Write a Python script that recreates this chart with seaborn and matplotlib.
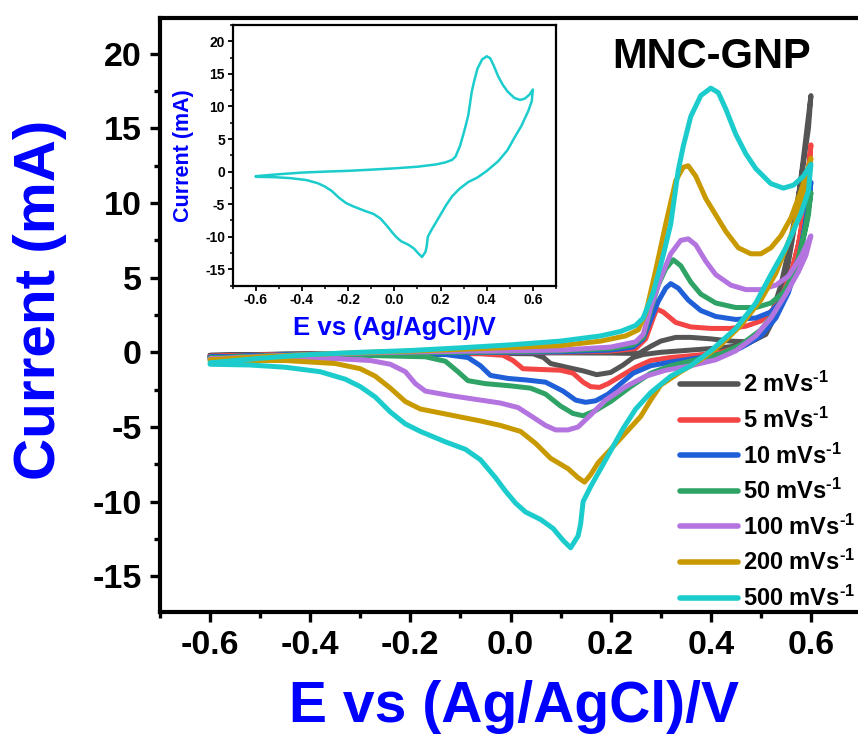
import numpy as np
import pandas as pd
import seaborn as sns
import matplotlib.pyplot as plt
from matplotlib.ticker import MultipleLocator

# scan rates and colours
rates = ["2", "5", "10", "50", "100", "200", "500"]
colors = ["#555555", "#f44545", "#1f5fd8", "#2fa366", "#b474e0", "#c99a00", "#1ccccc"]

# potential (V) / current (mA), forward then reverse scan
E_2 = [-0.6, -0.45, -0.3, -0.15, 0.0, 0.1, 0.2, 0.255, 0.26, 0.28, 0.30, 0.33, 0.36, 0.40, 0.44, 0.48, 0.51, 0.53,
       0.55, 0.57, 0.585, 0.60,
       0.595, 0.58, 0.56, 0.54, 0.52, 0.50, 0.47, 0.42, 0.36, 0.30, 0.265, 0.245, 0.225, 0.2, 0.172, 0.146, 0.112,
       0.08, 0.066, 0.045, -0.1, -0.3, -0.45, -0.6]
I_2 = [-0.2, -0.12, -0.08, -0.05, -0.04, -0.04, -0.05, -0.08, 0.0, 0.4, 0.75, 1.0, 1.0, 0.9, 0.75, 0.7, 1.2, 2.5,
       5.0, 9.0, 13.0, 17.2,
       15.0, 11.5, 7.5, 4.5, 2.4, 1.1, 0.5, 0.3, 0.15, 0.0, -0.15, -0.35, -0.85, -1.35, -1.5, -1.25, -1.0,
       -0.75, -0.35, -0.1, -0.05, -0.1, -0.13, -0.2]

E_5 = [-0.6, -0.45, -0.3, -0.15, 0.0, 0.1, 0.2, 0.25, 0.27, 0.285, 0.292, 0.305, 0.33, 0.36, 0.40, 0.44, 0.47, 0.50,
       0.525, 0.545, 0.565, 0.58, 0.592, 0.60,
       0.59, 0.575, 0.555, 0.53, 0.50, 0.46, 0.42, 0.37, 0.32, 0.28, 0.25, 0.22, 0.195, 0.178, 0.16, 0.145, 0.125,
       0.1, 0.06, 0.025, 0.005, -0.015, -0.06, -0.2, -0.4, -0.6]
I_5 = [-0.27, -0.15, -0.08, -0.04, -0.02, 0.0, 0.08, 0.25, 0.9, 2.3, 2.9, 2.7, 2.0, 1.7, 1.6, 1.6, 1.75, 2.1,
       2.9, 4.0, 5.8, 8.0, 11.0, 13.9,
       10.3, 7.2, 4.6, 2.6, 1.2, 0.4, 0.0, -0.2, -0.35, -0.55, -1.0, -1.6, -2.1, -2.35, -2.3, -2.0, -1.4,
       -1.2, -1.15, -1.1, -0.55, -0.2, -0.1, -0.08, -0.15, -0.27]

E_10 = [-0.6, -0.45, -0.3, -0.15, 0.0, 0.1, 0.2, 0.245, 0.265, 0.28, 0.295, 0.31, 0.32, 0.335, 0.355, 0.38, 0.41,
        0.45, 0.49, 0.52, 0.545, 0.565, 0.58, 0.595, 0.60,
        0.59, 0.575, 0.555, 0.53, 0.50, 0.46, 0.42, 0.37, 0.32, 0.28, 0.245, 0.22, 0.195, 0.17, 0.15, 0.13, 0.105,
        0.07, 0.03, -0.005, -0.04, -0.06, -0.085, -0.13, -0.3, -0.45, -0.6]
I_10 = [-0.32, -0.18, -0.1, -0.04, 0.0, 0.03, 0.15, 0.35, 0.9, 2.2, 3.4, 4.3, 4.6, 4.3, 3.5, 2.8, 2.4,
        2.2, 2.3, 2.7, 3.6, 5.0, 6.8, 9.8, 11.4,
        8.8, 6.2, 4.0, 2.3, 1.1, 0.3, -0.15, -0.4, -0.65, -0.9, -1.4, -2.1, -2.8, -3.25, -3.35, -3.2, -2.6,
        -2.0, -1.85, -1.75, -1.55, -0.9, -0.35, -0.15, -0.12, -0.18, -0.32]

E_50 = [-0.6, -0.45, -0.3, -0.15, 0.0, 0.1, 0.2, 0.245, 0.265, 0.28, 0.295, 0.31, 0.325, 0.34, 0.36, 0.38, 0.41,
        0.45, 0.49, 0.52, 0.545, 0.565, 0.58, 0.595, 0.60,
        0.59, 0.575, 0.555, 0.53, 0.50, 0.46, 0.42, 0.37, 0.32, 0.28, 0.24, 0.2, 0.17, 0.145, 0.125, 0.10,
        0.07, 0.04, 0.0, -0.05, -0.085, -0.105, -0.13, -0.17, -0.3, -0.45, -0.6]
I_50 = [-0.38, -0.2, -0.1, -0.02, 0.04, 0.1, 0.25, 0.5, 1.0, 2.8, 4.5, 5.6, 6.2, 5.8, 4.7, 3.9, 3.3,
        3.0, 3.0, 3.3, 4.0, 5.2, 6.8, 9.2, 10.7,
        8.5, 6.3, 4.5, 2.8, 1.5, 0.5, -0.1, -0.5, -0.9, -1.4, -2.3, -3.3, -3.9, -4.25, -4.1, -3.6,
        -2.8, -2.4, -2.25, -2.1, -1.9, -1.3, -0.6, -0.3, -0.2, -0.22, -0.38]

E_100 = [-0.6, -0.5, -0.4, -0.3, -0.2, -0.1, 0.0, 0.1, 0.2, 0.25, 0.265, 0.28, 0.30, 0.32, 0.34, 0.355, 0.37,
         0.39, 0.41, 0.44, 0.47, 0.50, 0.53, 0.555, 0.58, 0.60,
         0.59, 0.575, 0.55, 0.52, 0.49, 0.45, 0.41, 0.36, 0.31, 0.27, 0.23, 0.19, 0.16, 0.135, 0.115, 0.09,
         0.07, 0.045, 0.015, -0.02, -0.06, -0.12, -0.17, -0.19, -0.21, -0.24, -0.28, -0.35, -0.45, -0.6]
I_100 = [-0.45, -0.28, -0.15, -0.05, 0.02, 0.07, 0.1, 0.15, 0.35, 0.7, 1.2, 3.0, 5.0, 6.6, 7.5, 7.6, 7.2,
         6.1, 5.2, 4.5, 4.2, 4.2, 4.5, 5.1, 6.4, 7.8,
         6.5, 5.4, 3.9, 2.3, 1.1, 0.1, -0.5, -0.9, -1.2, -1.6, -2.3, -3.2, -4.2, -5.0, -5.2, -5.2,
         -4.9, -4.35, -3.7, -3.4, -3.2, -2.9, -2.6, -2.1, -1.3, -0.8, -0.55, -0.42, -0.35, -0.45]

E_200 = [-0.6, -0.5, -0.4, -0.3, -0.2, -0.1, 0.0, 0.1, 0.18, 0.23, 0.255, 0.27, 0.29, 0.31, 0.33, 0.345, 0.355,
         0.37, 0.39, 0.41, 0.43, 0.455, 0.48, 0.50, 0.52, 0.54, 0.56, 0.58, 0.60,
         0.595, 0.58, 0.56, 0.53, 0.50, 0.46, 0.42, 0.38, 0.34, 0.30, 0.28, 0.26, 0.23, 0.20, 0.175, 0.16, 0.148,
         0.135, 0.115, 0.08, 0.05, 0.02, -0.02, -0.06, -0.12, -0.18, -0.21, -0.24, -0.27, -0.3, -0.35, -0.45, -0.6]
I_200 = [-0.5, -0.3, -0.15, -0.02, 0.08, 0.2, 0.32, 0.45, 0.75, 1.1, 1.5, 2.6, 5.5, 8.6, 11.5, 12.4, 12.5,
         11.8, 10.3, 9.2, 8.1, 7.0, 6.6, 6.6, 7.0, 7.8, 9.0, 10.8, 13.0,
         11.5, 10.0, 7.8, 5.3, 3.5, 1.8, 0.5, -0.5, -1.3, -2.2, -3.2, -4.3, -5.4, -6.5, -7.4, -8.2, -8.7,
         -8.4, -7.8, -7.1, -6.1, -5.3, -4.9, -4.6, -4.2, -3.8, -3.3, -2.4, -1.6, -1.1, -0.75, -0.55, -0.55]

E_500 = [-0.6, -0.5, -0.4, -0.3, -0.2, -0.1, 0.0, 0.1, 0.18, 0.22, 0.25, 0.265, 0.285, 0.305, 0.32, 0.335, 0.345,
         0.36, 0.38, 0.40, 0.415, 0.43, 0.45, 0.47, 0.49, 0.52, 0.545, 0.565, 0.585, 0.60,
         0.595, 0.58, 0.55, 0.52, 0.49, 0.45, 0.40, 0.36, 0.32, 0.28, 0.25, 0.225, 0.20, 0.18, 0.16, 0.145,
         0.14, 0.135, 0.12, 0.105, 0.085, 0.06, 0.03, 0.01, -0.01, -0.03, -0.06, -0.09, -0.13, -0.18, -0.21,
         -0.24, -0.27, -0.3, -0.33, -0.38, -0.45, -0.52, -0.6]
I_500 = [-0.7, -0.4, -0.15, 0.0, 0.12, 0.3, 0.5, 0.75, 1.1, 1.4, 1.8, 2.3, 4.0, 6.5, 8.6, 12.2, 13.8,
         15.8, 17.2, 17.7, 17.4, 16.3, 14.6, 13.3, 12.3, 11.3, 11.0, 11.2, 11.8, 12.6,
         10.8, 9.3, 7.0, 5.2, 3.3, 1.6, 0.1, -0.9, -1.6, -2.7, -3.8, -5.1, -6.6, -7.8, -9.0, -10.0,
         -11.5, -12.3, -13.1, -12.6, -11.8, -11.2, -10.7, -10.1, -9.3, -8.4, -7.2, -6.5, -6.0, -5.3, -4.8,
         -4.0, -3.0, -2.3, -1.8, -1.3, -1.0, -0.85, -0.8]

E_all = [E_2, E_5, E_10, E_50, E_100, E_200, E_500]
I_all = [I_2, I_5, I_10, I_50, I_100, I_200, I_500]

sns.set_style("ticks")
plt.rcParams["font.family"] = ["Liberation Sans", "DejaVu Sans"]
plt.rcParams["font.weight"] = "bold"
plt.rcParams["axes.unicode_minus"] = False
plt.rcParams["mathtext.fontset"] = "custom"
plt.rcParams["mathtext.rm"] = "Liberation Sans:bold"
plt.rcParams["mathtext.bf"] = "Liberation Sans:bold"
plt.rcParams["mathtext.default"] = "rm"
for k in ["text.color", "axes.edgecolor", "xtick.color", "ytick.color", "axes.labelcolor"]:
    plt.rcParams[k] = "black"

fig = plt.figure(figsize=(8.58, 7.37), dpi=100)
ax = fig.add_axes([0.1865, 0.1696, 0.817, 0.806])

for r, c, E, I in zip(rates, colors, E_all, I_all):
    df = pd.DataFrame({"E": E, "I": I})
    sns.lineplot(data=df, x="E", y="I", sort=False, estimator=None, color=c, lw=3.6,
                 solid_joinstyle="round", solid_capstyle="round",
                 label=r"%s mVs$^{\text{-1}}$" % r, ax=ax)

ax.set_xlim(-0.7, 0.7)
ax.set_ylim(-17.4, 22.4)
ax.xaxis.set_minor_locator(MultipleLocator(0.1))
ax.yaxis.set_major_locator(MultipleLocator(5))
ax.yaxis.set_minor_locator(MultipleLocator(2.5))
ax.set_xticks(np.arange(-0.6, 0.61, 0.2))
ax.set_xticklabels(["-0.6", "-0.4", "-0.2", "0.0", "0.2", "0.4", "0.6"])
for s in ax.spines.values():
    s.set_linewidth(3)
ax.tick_params(which="major", direction="out", length=7, width=2.4, labelsize=24.5, pad=6)
ax.tick_params(which="minor", direction="out", length=4, width=2.4)
ax.set_xlabel("E vs (Ag/AgCl)/V", fontsize=41, color="#0000ff", fontweight="bold")
ax.set_ylabel("Current (mA)", fontsize=42, color="#0000ff", fontweight="bold")
ax.xaxis.set_label_coords(0.505, -0.115)
ax.yaxis.set_label_coords(-0.133, 0.525)

leg = ax.legend(loc="upper left", bbox_to_anchor=(0.7925, 0.495), bbox_transform=fig.transFigure,
                frameon=False, fontsize=17, handlelength=2.45, handletextpad=0.2,
                labelspacing=0.44, borderpad=0, borderaxespad=0)
for line in leg.get_lines():
    line.set_linewidth(4)

fig.text(0.829, 0.908, "MNC-GNP", fontsize=30, fontweight="bold", ha="center", va="baseline", color="black")

# inset with the 500 mV/s scan
ins = fig.add_axes([0.2712, 0.6124, 0.3768, 0.3537])
sns.lineplot(x=E_500, y=I_500, sort=False, estimator=None, color="#1ccccc", lw=1.8, ax=ins)
ins.set_xlim(-0.7, 0.7)
ins.set_ylim(-17.5, 22.5)
ins.set_xticks(np.arange(-0.6, 0.61, 0.2))
ins.set_xticklabels(["-0.6", "-0.4", "-0.2", "0.0", "0.2", "0.4", "0.6"])
ins.xaxis.set_minor_locator(MultipleLocator(0.1))
ins.yaxis.set_major_locator(MultipleLocator(5))
ins.yaxis.set_minor_locator(MultipleLocator(2.5))
for s in ins.spines.values():
    s.set_linewidth(1.6)
ins.tick_params(which="major", direction="out", length=3.5, width=1.3, labelsize=10, pad=2)
ins.tick_params(which="minor", direction="out", length=2, width=1.1)
ins.set_xlabel("E vs (Ag/AgCl)/V", fontsize=18.5, color="#0000ff", fontweight="bold", labelpad=6)
ins.set_ylabel("Current (mA)", fontsize=15.5, color="#0000ff", fontweight="bold", labelpad=8)

fig.savefig("out.png", dpi=100)
